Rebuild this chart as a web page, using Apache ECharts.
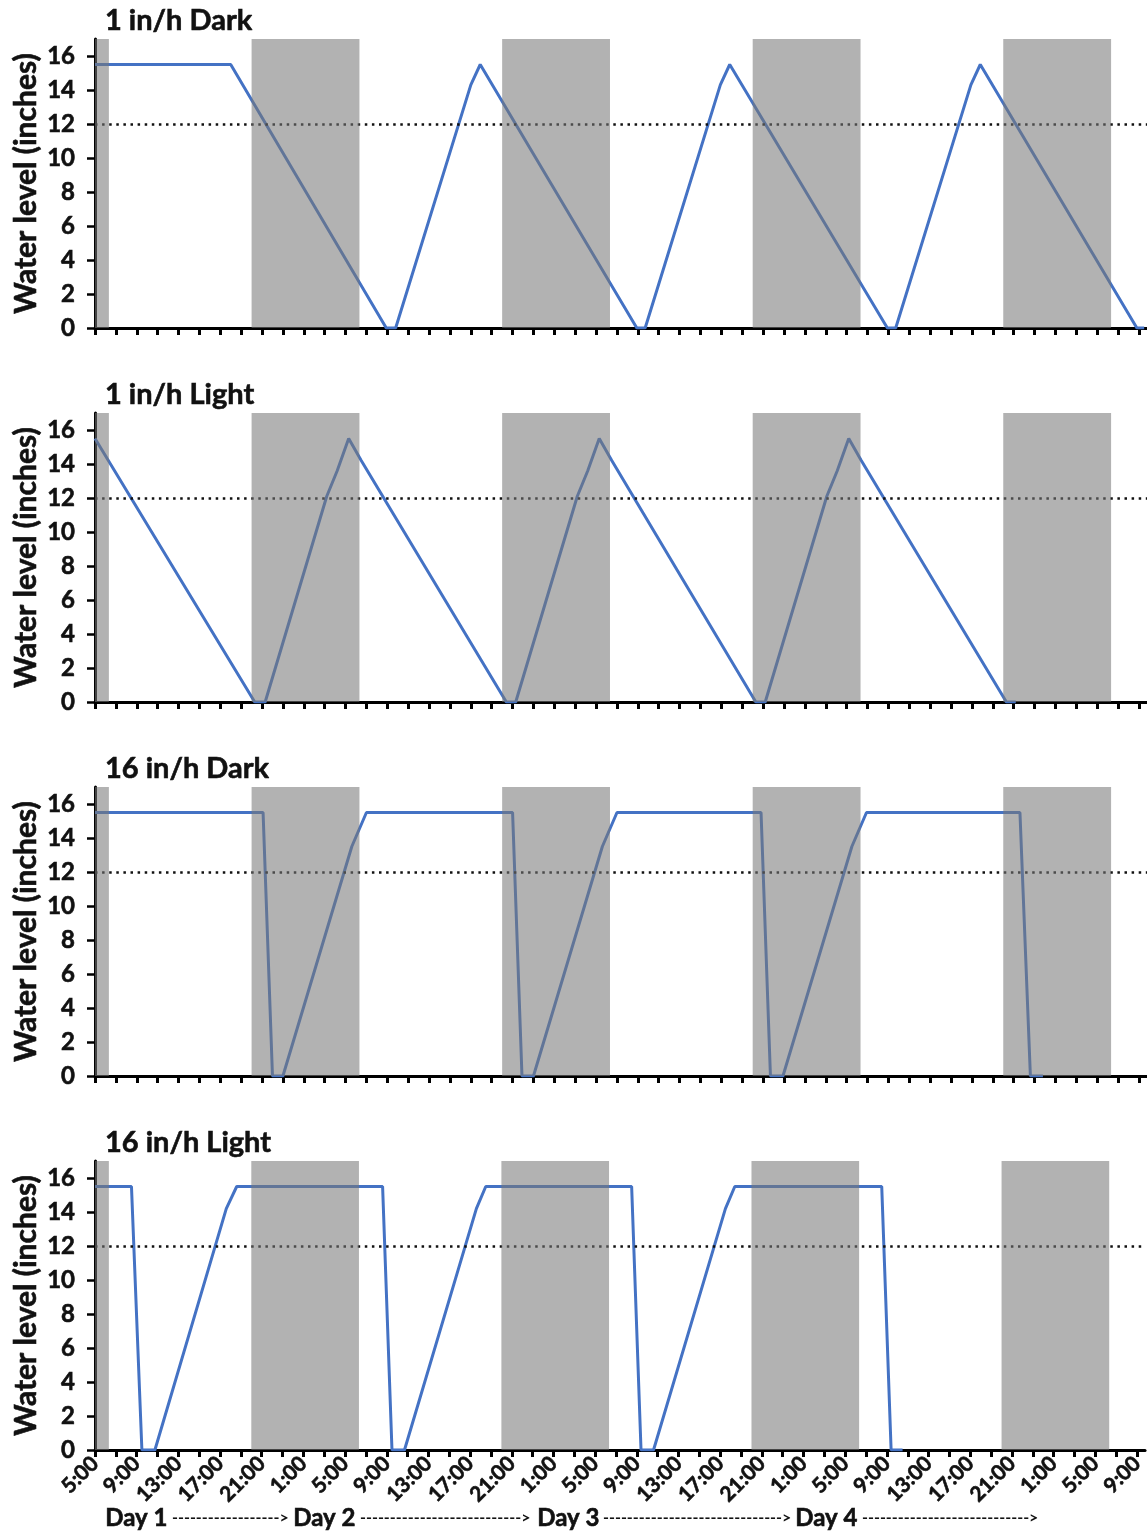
<!DOCTYPE html>
<html><head><meta charset="utf-8">
<script src="https://cdn.jsdelivr.net/npm/echarts@6/dist/echarts.min.js"></script>
<style>html,body{margin:0;padding:0;background:#fff}#c{width:1147px;height:1534px}</style>
</head><body><div id="c"></div>
<script>
// ---- data (hours after 5:00 on Day 1, water level in inches) ----
const panelTitles = ['1 in/h Dark', '1 in/h Light', '16 in/h Dark', '16 in/h Light'];
const startClockHour = 5;
const darkPeriods = [[0, 1.33], [15, 25.33], [39, 49.33], [63, 73.33], [87, 97.33]];
const thresholdLevel = 12;
const yTickValues = [0, 2, 4, 6, 8, 10, 12, 14, 16];
const dayLabels = ['Day 1', 'Day 2', 'Day 3', 'Day 4'];

const level1inDark = [[0,15.5],[13,15.5],[27.9,0],[28.8,0],[36.0,14.3],[36.9,15.5],[51.9,0],[52.7,0],[59.9,14.3],[60.8,15.5],[75.9,0],[76.7,0],[83.9,14.3],[84.8,15.5],[99.8,0],[100.5,0]];
const level1inLight = [[0,15.5],[15.3,0],[16.3,0],[22.2,12.1],[23.2,13.6],[24.3,15.5],[25.5,14.2],[39.4,0],[40.3,0],[46.2,12.1],[47.2,13.6],[48.3,15.5],[49.5,14.2],[63.3,0],[64.2,0],[70.1,12.1],[71.1,13.6],[72.2,15.5],[73.4,14.2],[87.3,0],[88.2,0]];
const level16inDark = [[0,15.5],[16.1,15.5],[17.0,0],[18.0,0],[24.6,13.5],[26.0,15.5],[40.0,15.5],[40.9,0],[42.0,0],[48.6,13.5],[50.0,15.5],[63.8,15.5],[64.7,0],[65.9,0],[72.5,13.5],[73.9,15.5],[88.6,15.5],[89.6,0],[90.8,0]];
const level16inLight = [[0,15.5],[3.5,15.5],[4.5,0],[5.75,0],[12.6,14.2],[13.6,15.5],[27.6,15.5],[28.5,0],[29.7,0],[36.6,14.2],[37.5,15.5],[51.5,15.5],[52.4,0],[53.6,0],[60.5,14.2],[61.4,15.5],[75.5,15.5],[76.4,0],[77.5,0]];
const panelSeries = [level1inDark, level1inLight, level16inDark, level16inLight];

const xTickHours = []; for (let h = 0; h <= 100; h += 2) xTickHours.push(h);
const xLabelHours = []; for (let h = 0; h <= 100; h += 4) xLabelHours.push(h);

// ---- layout ----
const FONT = 'Lato';
const TXT = '#111';
const HEAVY = {textBorderColor: '#111', textBorderWidth: 0.6};
const gridLeft = 95, gridWidth = 1052, gridTop0 = 39, gridStep = 374, gridH = 289;

const chart = echarts.init(document.getElementById('c'), null, {renderer: 'canvas'});
const grids = [], xAxes = [], yAxes = [], series = [], titles = [];
panelTitles.forEach((t, i) => {
  const top = gridTop0 + gridStep * i;
  grids.push({left: gridLeft, top: top, width: gridWidth, height: gridH});
  titles.push({text: t, left: 100, top: top - 38, textStyle: Object.assign({fontFamily: FONT, fontWeight: 'bold', fontSize: 29, color: TXT}, HEAVY)});
  xAxes.push({
    type: 'value', gridIndex: i, min: 0, max: 100.77,
    axisLine: {show: true, onZero: false, lineStyle: {color: '#000', width: 3}},
    axisTick: {show: true, length: 7, lineStyle: {color: '#000', width: 3}, customValues: xTickHours},
    axisLabel: Object.assign({show: i === 3, customValues: xLabelHours, rotate: 45, margin: 10,
      fontFamily: FONT, fontWeight: 'bold', fontSize: 21, color: TXT,
      formatter: v => ((startClockHour + Math.round(v)) % 24) + ':00'}, HEAVY),
    splitLine: {show: false}
  });
  yAxes.push({
    type: 'value', gridIndex: i, min: 0, max: 17,
    name: 'Water level (inches)', nameLocation: 'middle', nameGap: 54, nameMoveOverlap: false,
    nameTextStyle: Object.assign({fontFamily: FONT, fontWeight: 'bold', fontSize: 30, color: TXT}, HEAVY),
    axisLine: {show: true, lineStyle: {color: '#000', width: 3}},
    axisTick: {show: true, length: 8, lineStyle: {color: '#000', width: 2.5}, customValues: yTickValues},
    axisLabel: Object.assign({customValues: yTickValues, margin: 20, fontFamily: FONT, fontWeight: 'bold', fontSize: 24, color: TXT}, HEAVY),
    splitLine: {show: false}
  });
  series.push({
    type: 'line', xAxisIndex: i, yAxisIndex: i, data: panelSeries[i],
    showSymbol: false, symbol: 'none', z: 2,
    lineStyle: {color: '#4472C4', width: 3},
    markLine: {silent: true, symbol: 'none', z: 3, label: {show: false},
      lineStyle: {color: '#111', width: 2.5, type: [2.5, 4.6]},
      data: [{yAxis: thresholdLevel}]},
    markArea: {silent: true, z: 10, itemStyle: {color: 'rgba(120,120,120,0.57)'},
      data: darkPeriods.map(p => [{xAxis: p[0]}, {xAxis: p[1]}])}
  });
});

// day labels with dashed arrows
function dashText(width, font) {
  const ctx = document.createElement('canvas').getContext('2d');
  ctx.font = font;
  const w = ctx.measureText('-').width, aw = ctx.measureText('>').width;
  const n = Math.max(1, Math.round((width - aw) / w));
  return '-'.repeat(n) + '>';
}
const dayX = [105, 293, 537, 795];
const dashSpans = [[172, 290], [360, 533], [603, 790], [862, 1040]];
const dashFont = 'bold 16px ' + FONT;
const graphics = [];
dayLabels.forEach((d, i) => {
  graphics.push({type: 'text', left: dayX[i], top: 1506, style: {text: d, fontFamily: FONT, fontWeight: 'bold', fontSize: 24, fill: TXT, stroke: TXT, lineWidth: 0.6}});
  graphics.push({type: 'text', left: dashSpans[i][0], top: 1510, style: {text: dashText(dashSpans[i][1] - dashSpans[i][0], dashFont), fontFamily: FONT, fontWeight: 'bold', fontSize: 16, fill: TXT}});
});

chart.setOption({
  animation: false,
  backgroundColor: '#fff',
  title: titles,
  grid: grids, xAxis: xAxes, yAxis: yAxes, series: series,
  graphic: graphics
});
</script></body></html>
